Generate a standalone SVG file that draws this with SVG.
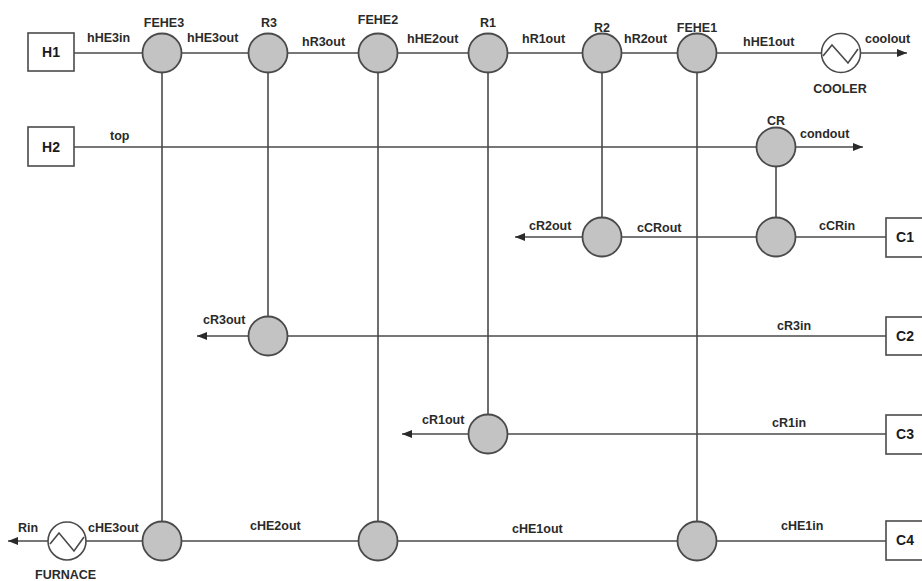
<svg xmlns="http://www.w3.org/2000/svg" width="922" height="581" viewBox="0 0 922 581">
<style>
.ln{stroke:#4a4a4a;stroke-width:1.6;fill:none}
.nd{fill:#c3c3c3;stroke:#4a4a4a;stroke-width:1.8}
.hx{fill:#fff;stroke:#4a4a4a;stroke-width:1.6}
.zz{fill:none;stroke:#4a4a4a;stroke-width:1.6}
.bx{fill:#fff;stroke:#4a4a4a;stroke-width:1.6}
.t{font-family:"Liberation Sans",Arial,sans-serif;font-size:12.5px;font-weight:bold;fill:#2a2a2a}
.tb{font-family:"Liberation Sans",Arial,sans-serif;font-size:14px;font-weight:bold;fill:#1a1a1a;text-anchor:middle}
.m{text-anchor:middle}
</style>
<defs>
<marker id="ar" viewBox="0 0 10 8" refX="10" refY="4" markerWidth="10" markerHeight="8" markerUnits="userSpaceOnUse" orient="auto">
<path d="M0,0 L10,4 L0,8 z" fill="#2a2a2a"/>
</marker>
</defs>
<rect width="922" height="581" fill="#fff"/>
<g id="connectors">
<!-- hot stream H1 -->
<line class="ln" x1="74" y1="53" x2="821" y2="53"/>
<line class="ln" x1="861" y1="53" x2="907" y2="53" marker-end="url(#ar)"/>
<!-- hot stream H2 -->
<line class="ln" x1="74" y1="147" x2="757" y2="147"/>
<line class="ln" x1="795" y1="147" x2="863" y2="147" marker-end="url(#ar)"/>
<!-- verticals -->
<line class="ln" x1="162" y1="53" x2="162" y2="541"/>
<line class="ln" x1="268" y1="53" x2="268" y2="336"/>
<line class="ln" x1="378" y1="53" x2="378" y2="541"/>
<line class="ln" x1="488" y1="53" x2="488" y2="434"/>
<line class="ln" x1="602" y1="53" x2="602" y2="237"/>
<line class="ln" x1="697" y1="53" x2="697" y2="541"/>
<line class="ln" x1="776" y1="147" x2="776" y2="237"/>
<!-- cold stream C1 -->
<line class="ln" x1="886" y1="237" x2="602" y2="237"/>
<line class="ln" x1="583" y1="237" x2="515" y2="237" marker-end="url(#ar)"/>
<!-- cold stream C2 -->
<line class="ln" x1="886" y1="336" x2="268" y2="336"/>
<line class="ln" x1="249" y1="336" x2="197" y2="336" marker-end="url(#ar)"/>
<!-- cold stream C3 -->
<line class="ln" x1="886" y1="434" x2="488" y2="434"/>
<line class="ln" x1="469" y1="434" x2="402" y2="434" marker-end="url(#ar)"/>
<!-- cold stream C4 -->
<line class="ln" x1="886" y1="541" x2="86" y2="541"/>
<line class="ln" x1="48" y1="541" x2="8" y2="541" marker-end="url(#ar)"/>
</g>
<g id="H1"><rect class="bx" x="28" y="33" width="46" height="38"/><text class="tb" x="51" y="57">H1</text></g>
<g id="H2"><rect class="bx" x="28" y="127" width="46" height="39"/><text class="tb" x="51" y="152">H2</text></g>
<g id="C1"><rect class="bx" x="886" y="218" width="48" height="39"/><text class="tb" x="905" y="242">C1</text></g>
<g id="C2"><rect class="bx" x="886" y="317" width="48" height="38"/><text class="tb" x="905" y="341">C2</text></g>
<g id="C3"><rect class="bx" x="886" y="415" width="48" height="39"/><text class="tb" x="905" y="439">C3</text></g>
<g id="C4"><rect class="bx" x="886" y="521" width="48" height="39"/><text class="tb" x="905" y="545">C4</text></g>
<g id="FEHE3"><circle class="nd" cx="162" cy="53" r="19.5"/><text class="t m" x="164" y="27">FEHE3</text></g>
<g id="R3"><circle class="nd" cx="268" cy="53" r="19.5"/><text class="t m" x="269" y="27">R3</text></g>
<g id="FEHE2"><circle class="nd" cx="378" cy="53" r="19.5"/><text class="t m" x="378" y="24">FEHE2</text></g>
<g id="R1"><circle class="nd" cx="488" cy="53" r="19.5"/><text class="t m" x="488" y="27">R1</text></g>
<g id="R2"><circle class="nd" cx="602" cy="53" r="19.5"/><text class="t m" x="602" y="32">R2</text></g>
<g id="FEHE1"><circle class="nd" cx="697" cy="53" r="19.5"/><text class="t m" x="697" y="32">FEHE1</text></g>
<g id="COOLER"><circle class="hx" cx="841" cy="53" r="19.5"/><polyline class="zz" points="823,56 832,45 848,63 858,49"/><text class="t m" x="840" y="93">COOLER</text></g>
<g id="CR"><circle class="nd" cx="776" cy="147" r="19.5"/><text class="t m" x="776" y="125">CR</text></g>
<g id="CR-cold"><circle class="nd" cx="776" cy="237" r="19.5"/></g>
<g id="R2-cold"><circle class="nd" cx="602" cy="237" r="19.5"/></g>
<g id="R3-cold"><circle class="nd" cx="268" cy="336" r="19.5"/></g>
<g id="R1-cold"><circle class="nd" cx="488" cy="434" r="19.5"/></g>
<g id="FEHE1-cold"><circle class="nd" cx="697" cy="541" r="19.5"/></g>
<g id="FEHE2-cold"><circle class="nd" cx="378" cy="541" r="19.5"/></g>
<g id="FEHE3-cold"><circle class="nd" cx="162" cy="541" r="19.5"/></g>
<g id="FURNACE"><circle class="hx" cx="67" cy="541" r="19"/><polyline class="zz" points="50,544 59,533 74,551 84,537"/><text class="t" x="35" y="579">FURNACE</text></g>
<g id="labels">
<text class="t" x="87" y="42">hHE3in</text>
<text class="t" x="187" y="42">hHE3out</text>
<text class="t" x="302" y="46">hR3out</text>
<text class="t" x="407" y="43">hHE2out</text>
<text class="t" x="522" y="43">hR1out</text>
<text class="t" x="624" y="43">hR2out</text>
<text class="t" x="743" y="46">hHE1out</text>
<text class="t" x="865" y="43">coolout</text>
<text class="t" x="110" y="140">top</text>
<text class="t" x="800" y="138">condout</text>
<text class="t" x="529" y="230">cR2out</text>
<text class="t" x="637" y="232">cCRout</text>
<text class="t" x="819" y="230">cCRin</text>
<text class="t" x="203" y="324">cR3out</text>
<text class="t" x="777" y="330">cR3in</text>
<text class="t" x="422" y="424">cR1out</text>
<text class="t" x="772" y="427">cR1in</text>
<text class="t" x="18" y="532">Rin</text>
<text class="t" x="88" y="532">cHE3out</text>
<text class="t" x="250" y="530">cHE2out</text>
<text class="t" x="512" y="533">cHE1out</text>
<text class="t" x="781" y="530">cHE1in</text>
</g>
</svg>
